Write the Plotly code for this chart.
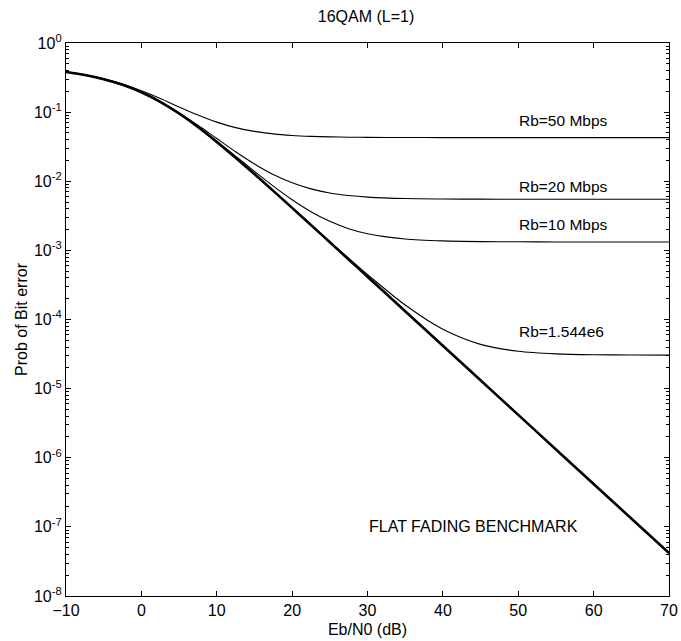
import plotly.graph_objects as go

# Eb/N0 (dB) sample points
ebn0 = [-10, -7.5, -5, -2.5, 0, 2.5, 5, 7.5, 10, 12.5, 15, 17.5, 20, 22.5, 25,
        27.5, 30, 35, 40, 45, 50, 55, 60, 65, 70]

# Flat fading benchmark (thick line)
ber_flat = [0.381, 0.345, 0.300, 0.249, 0.194, 0.141, 0.0954, 0.0609, 0.0371,
            0.0219, 0.0127, 0.00725, 0.00412, 0.00233, 0.00131, 0.000739,
            0.000416, 0.000132, 4.17e-5, 1.32e-5, 4.17e-6, 1.32e-6, 4.17e-7,
            1.32e-7, 4.17e-8]

ber_50m = [0.382, 0.346, 0.303, 0.255, 0.2045, 0.158, 0.119, 0.0907, 0.0717,
           0.0597, 0.0526, 0.0484, 0.0460, 0.0446, 0.0438, 0.0434, 0.0431,
           0.0429, 0.0428, 0.0428, 0.0428, 0.0428, 0.0428, 0.0428, 0.0428]

ber_20m = [0.381, 0.345, 0.301, 0.2496, 0.1951, 0.1428, 0.0983, 0.0646, 0.0415,
           0.0267, 0.0178, 0.0125, 0.00948, 0.00775, 0.00676, 0.00621, 0.00590,
           0.00562, 0.00554, 0.00551, 0.00550, 0.00550, 0.00550, 0.00550, 0.00550]

ber_10m = [0.381, 0.345, 0.300, 0.249, 0.194, 0.141, 0.0961, 0.0618, 0.0381,
           0.0231, 0.0139, 0.00851, 0.00541, 0.00363, 0.00263, 0.00206, 0.00174,
           0.00146, 0.00137, 0.00134, 0.00133, 0.001325, 0.001324, 0.001324, 0.001324]

ber_t1 = [0.381, 0.345, 0.300, 0.249, 0.194, 0.141, 0.0954, 0.0609, 0.0371,
          0.0219, 0.0127, 0.00726, 0.004145, 0.002357, 0.001342, 0.00077,
          0.000447, 0.000162, 7.22e-5, 4.37e-5, 3.47e-5, 3.18e-5, 3.09e-5,
          3.064e-5, 3.05e-5]

series_labels = ["Rb=50 Mbps", "Rb=20 Mbps", "Rb=10 Mbps", "Rb=1.544e6"]
bench_label = "FLAT FADING BENCHMARK"

x_ticks = [-10, 0, 10, 20, 30, 40, 50, 60, 70]
y_exps = [0, -1, -2, -3, -4, -5, -6, -7, -8]

FONT = "Liberation Sans, Arial, Helvetica, sans-serif"

fig = go.Figure()
for ys in [ber_50m, ber_20m, ber_10m, ber_t1]:
    fig.add_trace(go.Scatter(x=ebn0, y=ys, mode="lines",
                             line=dict(color="black", width=1.1, shape="spline", smoothing=0.8),
                             showlegend=False, hoverinfo="skip"))
fig.add_trace(go.Scatter(x=ebn0, y=ber_flat, mode="lines",
                         line=dict(color="black", width=2.6, shape="spline", smoothing=0.8),
                         showlegend=False, hoverinfo="skip"))

# label positions (x in dB, y in log10 units)
label_pos = [(56.0, -1.12), (56.0, -2.07), (56.0, -2.63), (55.8, -4.18)]
for txt, (lx, ly) in zip(series_labels, label_pos):
    fig.add_annotation(x=lx, y=ly, text=txt, showarrow=False,
                       font=dict(family=FONT, size=15.5, color="black"),
                       xanchor="center", yanchor="middle")
fig.add_annotation(x=44.1, y=-7.0, text=bench_label, showarrow=False,
                   font=dict(family=FONT, size=16, color="black"),
                   xanchor="center", yanchor="middle")

minor_vals = [m * 10.0 ** e for e in range(-8, 0) for m in range(2, 10)]

fig.update_xaxes(range=[-10, 70], tickmode="array", tickvals=x_ticks,
                 ticktext=[("\u2212" + str(-t)) if t < 0 else str(t) for t in x_ticks],
                 ticks="inside", ticklen=5, tickcolor="black", tickwidth=1,
                 showline=True, linecolor="black", linewidth=1.3, mirror="ticks",
                 showgrid=False, zeroline=False, automargin=False,
                 tickfont=dict(family=FONT, size=16, color="black"),
                 title=dict(text="Eb/N0 (dB)", font=dict(family=FONT, size=16, color="black"),
                            standoff=5))
fig.update_yaxes(type="log", range=[-8, 0], tickmode="array",
                 tickvals=[10.0 ** e for e in y_exps],
                 ticktext=["10<sup>%s</sup>" % ("-" + str(-e) if e < 0 else str(e)) for e in y_exps],
                 ticks="inside", ticklen=5, tickcolor="black", tickwidth=1,
                 minor=dict(tickmode="array", tickvals=minor_vals, ticks="inside",
                            ticklen=3, tickcolor="black", tickwidth=1, showgrid=False),
                 showline=True, linecolor="black", linewidth=1.3, mirror="ticks",
                 showgrid=False, zeroline=False, automargin=False,
                 tickfont=dict(family=FONT, size=16, color="black"),
                 title=dict(text="Prob of Bit error", font=dict(family=FONT, size=16, color="black"),
                            standoff=2))

fig.update_layout(width=681, height=641,
                  margin=dict(l=66, r=12, t=43, b=45, autoexpand=False),
                  paper_bgcolor="white", plot_bgcolor="white",
                  title=dict(text="16QAM (L=1)", x=366 / 681, xanchor="center",
                             y=1 - 16 / 641, yref="container", yanchor="middle",
                             font=dict(family=FONT, size=16, color="black")),
                  font=dict(family=FONT, size=16, color="black"))

fig.write_html("out.html")
